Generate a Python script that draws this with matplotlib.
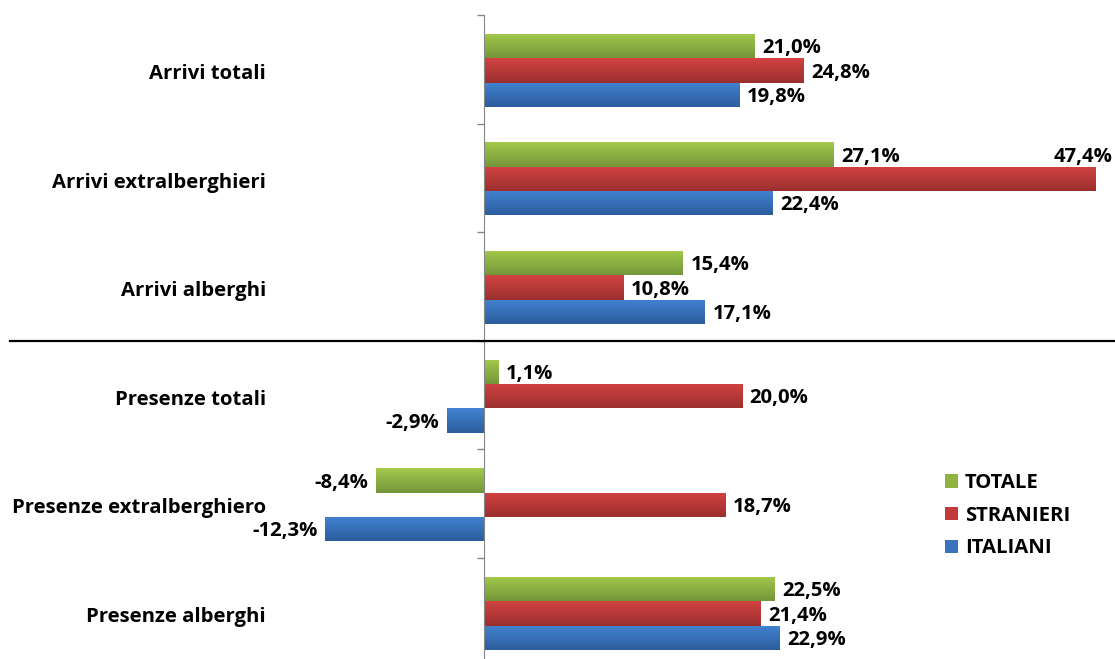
import numpy as np
import matplotlib
matplotlib.use("Agg")
import matplotlib.pyplot as plt
from matplotlib.colors import LinearSegmentedColormap
from matplotlib.patches import Patch
from matplotlib.lines import Line2D

plt.rcParams['font.family'] = ['Open Sans', 'DejaVu Sans']

categories = ['Arrivi totali', 'Arrivi extralberghieri', 'Arrivi alberghi',
              'Presenze totali', 'Presenze extralberghiero', 'Presenze alberghi']
series_names = ['TOTALE', 'STRANIERI', 'ITALIANI']
totale = [21.0, 27.1, 15.4, 1.1, -8.4, 22.5]
stranieri = [24.8, 47.4, 10.8, 20.0, 18.7, 21.4]
italiani = [19.8, 22.4, 17.1, -2.9, -12.3, 22.9]

# (top, bottom) of the vertical gradient on each bar
gradients = [('#a4c94b', '#74963a'), ('#d24242', '#9c2f2f'), ('#4282d2', '#2c5d9c')]
solid = ['#8fb340', '#c23a3a', '#3a72bb']
FS = 14.6

W, H = 1115, 659
fig = plt.figure(figsize=(W / 100, H / 100), dpi=100)
ax = fig.add_axes([0, 1 - 666.6 / H, 1, 651.6 / H])

px = 12.9  # pixels per percentage point
y = np.arange(len(categories))
h = 0.224
offsets = [-h, 0, h]
dy = 0.02  # nudge labels down a little

for vals, off, (top, bot) in zip([totale, stranieri, italiani], offsets, gradients):
    bars = ax.barh(y + off + 0.01, vals, height=h, color='none', edgecolor='none')
    cmap = LinearSegmentedColormap.from_list('g', [top, bot])
    grad = np.linspace(0, 1, 64).reshape(-1, 1)
    for b, v in zip(bars, vals):
        x0, y0 = b.get_x(), b.get_y()
        im = ax.imshow(grad, cmap=cmap, aspect='auto', interpolation='bilinear',
                       extent=[x0, x0 + b.get_width(), y0 + b.get_height(), y0], zorder=2)
        im.set_clip_path(b)
        yc = y0 + b.get_height() / 2 + dy
        label = f'{v:.1f}%'.replace('.', ',')
        if v > 40:
            ax.text(v + 1.35, yc - h, label, ha='right', va='center',
                    fontsize=FS, fontweight='bold', clip_on=False)
        elif v >= 0:
            ax.text(v + 0.6, yc, label, ha='left', va='center',
                    fontsize=FS, fontweight='bold')
        else:
            ax.text(v - 0.6, yc, label, ha='right', va='center',
                    fontsize=FS, fontweight='bold')

ax.set_xlim(-484 / px, (W - 484) / px)
ax.set_ylim(5.5, -0.5)

for s in ['top', 'right', 'bottom']:
    ax.spines[s].set_visible(False)
ax.spines['left'].set_position(('data', 0))
ax.spines['left'].set_color('#868686')
ax.spines['left'].set_zorder(3)
ax.set_xticks([])

ax.set_yticks(y + dy)
ax.set_yticklabels(categories, fontsize=FS, fontweight='bold')
ax.set_yticks(np.arange(-0.5, 6.0, 1.0), minor=True)
ax.tick_params(axis='y', which='major', length=0, pad=157)
ax.tick_params(axis='y', which='minor', length=5, width=1, color='#868686')

# separator between arrivals and stays
fig.add_artist(Line2D([10 / W, 1], [1 - 341 / H, 1 - 341 / H],
                      color='black', linewidth=1.6))

handles = [Patch(facecolor=c, edgecolor='none') for c in solid]
fig.legend(handles, series_names, loc='upper left',
           bbox_to_anchor=(937 / W, 1 - 465 / H), frameon=False,
           prop={'size': FS, 'weight': 'bold'}, handlelength=0.62, handleheight=0.62,
           handletextpad=0.35, labelspacing=0.62, borderaxespad=0)

fig.savefig('out.png', dpi=100)
